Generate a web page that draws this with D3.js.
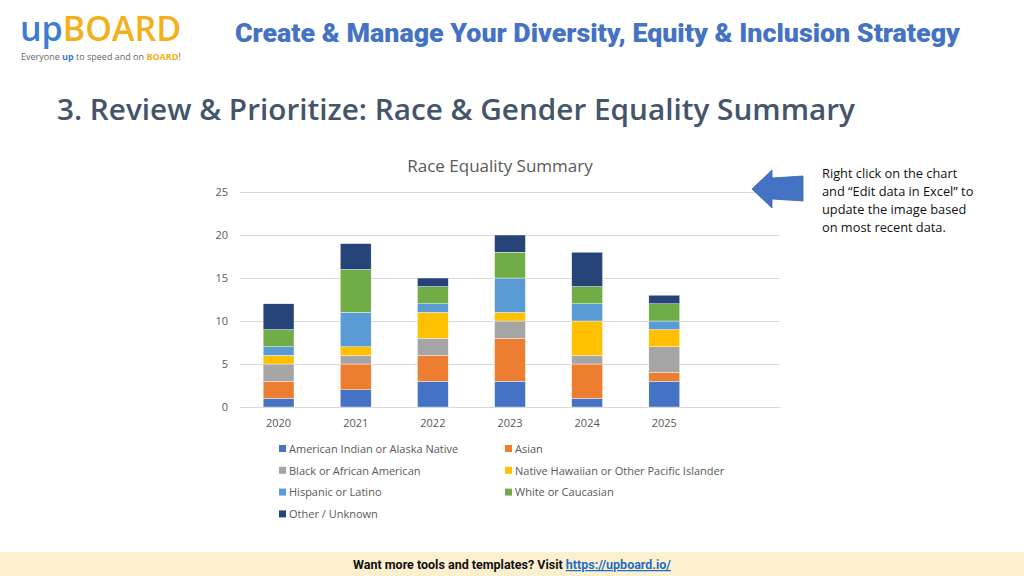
<!DOCTYPE html>
<html>
<head>
<meta charset="utf-8">
<script src="https://cdn.jsdelivr.net/npm/d3@7"></script>
<style>
  html, body { margin: 0; padding: 0; background: #fff; }
  svg { display: block; }
</style>
</head>
<body>
<svg id="chart" width="1024" height="576"></svg>
<script>
// chart data
const years = ['2020', '2021', '2022', '2023', '2024', '2025', ''];
const seriesNames = [
  'American Indian or Alaska Native', 'Asian',
  'Black or African American', 'Native Hawaiian or Other Pacific Islander',
  'Hispanic or Latino', 'White or Caucasian',
  'Other / Unknown'
];
const americanIndian = [1, 2, 3, 3, 1, 3, 0];
const asian          = [2, 3, 3, 5, 4, 1, 0];
const black          = [2, 1, 2, 2, 1, 3, 0];
const nativeHawaiian = [1, 1, 3, 1, 4, 2, 0];
const hispanic       = [1, 4, 1, 4, 2, 1, 0];
const white          = [2, 5, 2, 3, 2, 2, 0];
const other          = [3, 3, 1, 2, 4, 1, 0];
const yTicks = [0, 5, 10, 15, 20, 25];
const colors = ['#4472c4', '#ed7d31', '#a5a5a5', '#ffc000', '#5b9bd5', '#70ad47', '#264478'];

const allSeries = [americanIndian, asian, black, nativeHawaiian, hispanic, white, other];
const rows = years.map((y, i) => {
  const r = { year: y };
  seriesNames.forEach((s, j) => { r[s] = allSeries[j][i]; });
  return r;
});

const svg = d3.select('#chart');

// logo
const logo = svg.append('text')
  .attr('x', 20).attr('y', 41)
  .style('font-family', '"Open Sans", sans-serif')
  .style('font-size', '34px').style('font-weight', 600);
logo.append('tspan').attr('fill', '#3d7cd6').text('up');
logo.append('tspan').attr('fill', '#f4b01a').text('BOARD');

const tag = svg.append('text')
  .attr('x', 21).attr('y', 60)
  .style('font-family', '"Open Sans", sans-serif')
  .style('font-size', '9px').attr('fill', '#666');
tag.append('tspan').text('Everyone ');
tag.append('tspan').attr('fill', '#3d7cd6').style('font-weight', 700).text('up');
tag.append('tspan').text(' to speed and on ');
tag.append('tspan').attr('fill', '#f4b01a').style('font-weight', 700).text('BOARD');
tag.append('tspan').text('!');

// header
svg.append('text')
  .attr('x', 235).attr('y', 42)
  .attr('fill', '#4472c4')
  .style('font-family', 'Roboto, sans-serif')
  .style('font-size', '26px').style('font-weight', 900)
  .attr('textLength', 725).attr('lengthAdjust', 'spacingAndGlyphs')
  .text('Create & Manage Your Diversity, Equity & Inclusion Strategy');

svg.append('text')
  .attr('x', 57).attr('y', 120)
  .attr('fill', '#44546a')
  .style('font-family', '"Open Sans", sans-serif')
  .style('font-size', '29px').style('font-weight', 600)
  .attr('textLength', 798).attr('lengthAdjust', 'spacingAndGlyphs')
  .text('3. Review & Prioritize: Race & Gender Equality Summary');

// chart
const margin = { left: 240, right: 780, top: 192, bottom: 407 };
const x = d3.scaleBand().domain(years).range([margin.left, margin.right]).paddingInner(0.6).paddingOuter(0.3);
const y = d3.scaleLinear().domain([0, 25]).range([margin.bottom, margin.top]);

svg.append('text')
  .attr('x', 500).attr('y', 172)
  .attr('text-anchor', 'middle').attr('fill', '#595959')
  .style('font-family', '"Open Sans", sans-serif').style('font-size', '17px')
  .text('Race Equality Summary');

const yAxis = svg.append('g')
  .attr('transform', `translate(${margin.left},0)`)
  .call(d3.axisLeft(y).tickValues(yTicks).tickSize(-(margin.right - margin.left)).tickPadding(12));
yAxis.select('.domain').remove();
yAxis.selectAll('.tick line').attr('stroke', '#d9d9d9');
yAxis.selectAll('.tick text').attr('fill', '#595959')
  .style('font-family', '"Open Sans", sans-serif').style('font-size', '11px');

const stack = d3.stack().keys(seriesNames)(rows);
svg.append('g').selectAll('g')
  .data(stack).join('g')
  .attr('fill', (d, i) => colors[i])
  .selectAll('rect')
  .data(d => d).join('rect')
  .attr('x', d => x(d.data.year))
  .attr('width', x.bandwidth())
  .attr('y', d => y(d[1]))
  .attr('height', d => y(d[0]) - y(d[1]))
  .attr('stroke', '#fff').attr('stroke-width', 0.4);

const xAxis = svg.append('g')
  .attr('transform', `translate(0,${margin.bottom})`)
  .call(d3.axisBottom(x).tickSize(0).tickPadding(12));
xAxis.select('.domain').attr('stroke', '#d9d9d9');
xAxis.selectAll('.tick text').attr('fill', '#595959')
  .style('font-family', '"Open Sans", sans-serif').style('font-size', '11px');

// legend
const legend = svg.append('g').selectAll('g')
  .data(seriesNames).join('g')
  .attr('transform', (d, i) => `translate(${i % 2 === 0 ? 279 : 505},${449 + Math.floor(i / 2) * 21.8})`);
legend.append('rect')
  .attr('x', 0).attr('y', -4).attr('width', 7).attr('height', 7)
  .attr('fill', (d, i) => colors[i]);
legend.append('text')
  .attr('x', 10).attr('y', 0).attr('dy', '0.35em')
  .attr('fill', '#595959')
  .style('font-family', '"Open Sans", sans-serif').style('font-size', '11px')
  .text(d => d);

// arrow and note
svg.append('path')
  .attr('d', 'M752,189 L772,170 L772,178 L803,176 L803,201 L772,199 L772,208 Z')
  .attr('fill', '#4472c4').attr('stroke', '#3a62a8').attr('stroke-width', 0.8);

const note = ['Right click on the chart', 'and \u201cEdit data in Excel\u201d to', 'update the image based', 'on most recent data.'];
svg.append('g').selectAll('text')
  .data(note).join('text')
  .attr('x', 822).attr('y', (d, i) => 178 + i * 18)
  .attr('fill', '#111')
  .style('font-family', '"Open Sans", sans-serif').style('font-size', '12.8px')
  .text(d => d);

// footer
svg.append('rect').attr('x', 0).attr('y', 552).attr('width', 1024).attr('height', 24).attr('fill', '#fdf0cf');
const foot = svg.append('text')
  .attr('x', 512).attr('y', 569).attr('text-anchor', 'middle')
  .style('font-family', 'Roboto, sans-serif').style('font-size', '12.5px').style('font-weight', 700)
  .attr('textLength', 318).attr('lengthAdjust', 'spacingAndGlyphs');
foot.append('tspan').attr('fill', '#111').text('Want more tools and templates? Visit ');
foot.append('tspan').attr('fill', '#1f6fc5').style('text-decoration', 'underline').text('https://upboard.io/');
</script>
</body>
</html>
